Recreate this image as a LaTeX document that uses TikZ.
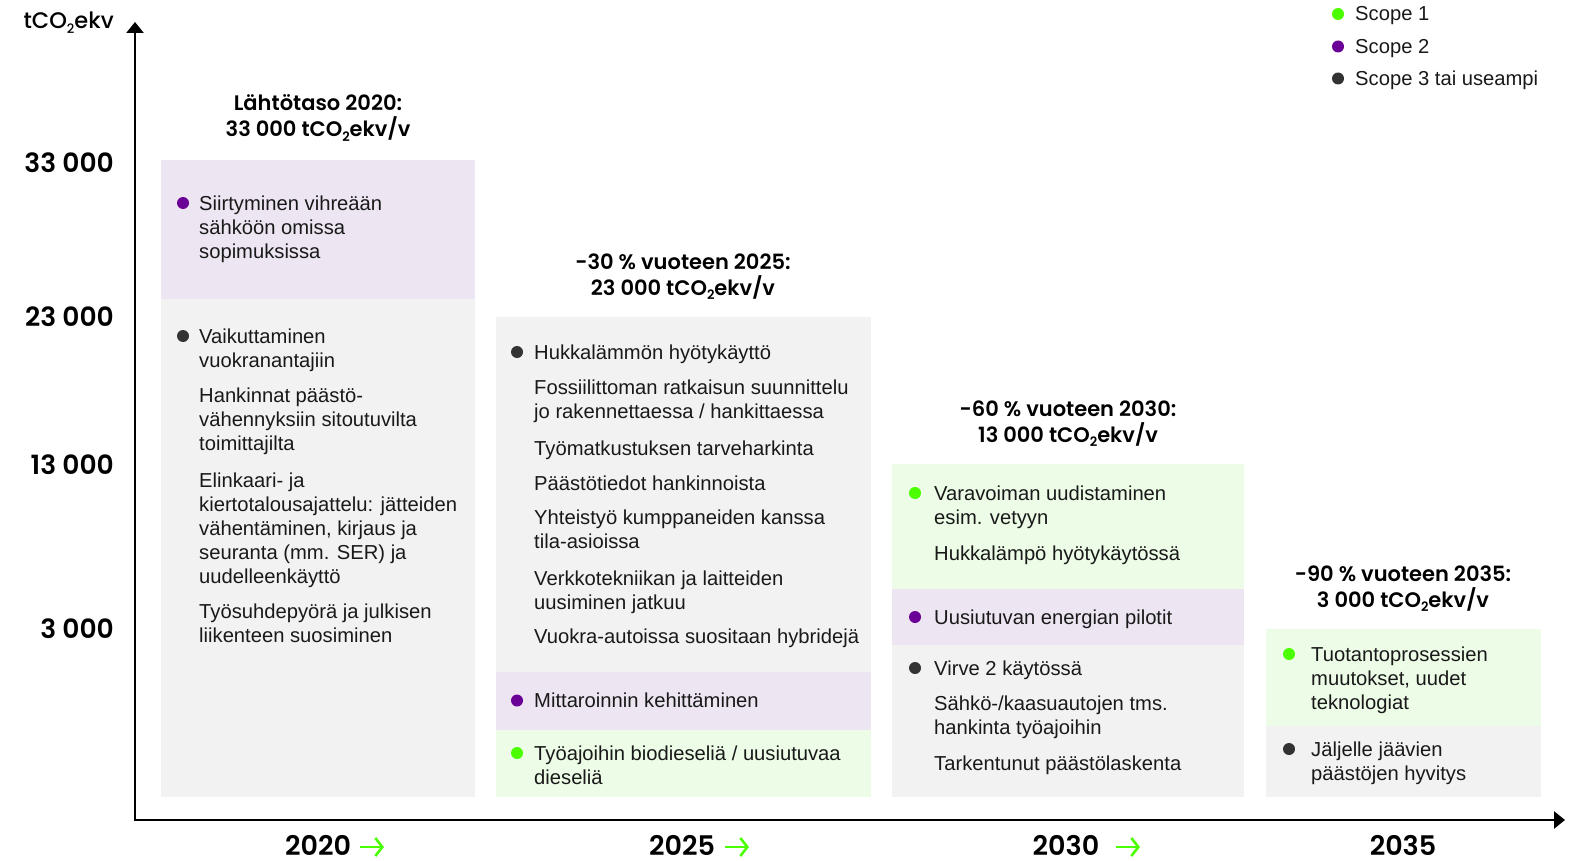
\documentclass[tikz,border=0pt]{standalone}
\usepackage{fontspec}
\setmainfont{Liberation Sans}
\newfontfamily\hdr{Poppins}[BoldFont={Poppins SemiBold}]
\newfontfamily\hdrm{Poppins Medium}
\usetikzlibrary{arrows.meta}
\definecolor{boxpurple}{HTML}{EDE5F2}
\definecolor{boxgray}{HTML}{F2F2F2}
\definecolor{boxgreen}{HTML}{ECFCE6}
\definecolor{dotpurple}{HTML}{6B0096}
\definecolor{dotgreen}{HTML}{4CFF00}
\definecolor{dotdark}{HTML}{333333}
\newcommand\cotwo{tCO\raisebox{-0.35ex}{\fontsize{13}{13}\selectfont 2}}
\begin{document}
\begin{tikzpicture}[x=1pt,y=-1pt,
  body/.style={anchor=base west, align=left, inner sep=0pt, font=\fontsize{20.2}{24.15}\selectfont, text=black!90},
  nl/.style={yshift=-(#1-1)*24.15pt},
  hd/.style={anchor=base, align=center, inner sep=0pt, yshift=-26pt, font=\hdr\bfseries\fontsize{21}{26}\selectfont},
  ylab/.style={anchor=base east, inner sep=0pt, font=\hdr\bfseries\fontsize{26.5}{28}\selectfont},
  year/.style={anchor=base, inner sep=0pt, text depth=0pt, font=\hdr\bfseries\fontsize{27}{28}\selectfont},
  dot/.style={circle, inner sep=0pt, minimum size=12pt, fill=#1},
  axis/.style={line width=2.6pt, -{Triangle[width=17pt,length=11pt]}},
  garrow/.style={draw=dotgreen, line width=2.6pt, -{Straight Barb[length=7pt,width=18pt]}}
]
\useasboundingbox (0,0) rectangle (1578,861);
% boxes
\fill[boxpurple] (161,160) rectangle (475,299);
\fill[boxgray] (161,299) rectangle (475,797);
\fill[boxgray] (496,317) rectangle (871,672);
\fill[boxpurple] (496,672) rectangle (871,730);
\fill[boxgreen] (496,730) rectangle (871,797);
\fill[boxgreen] (892,464) rectangle (1244,589);
\fill[boxpurple] (892,589) rectangle (1244,645);
\fill[boxgray] (892,645) rectangle (1244,797);
\fill[boxgreen] (1266,629) rectangle (1541,726);
\fill[boxgray] (1266,726) rectangle (1541,797);
% axes
\coordinate (O) at (135,820);
\coordinate (Ytop) at (135,22);
\coordinate (Xend) at (1565,820);
\draw[axis] (O) -- (Ytop);
\draw[axis] (133.7,820) -- (Xend);
% y labels
\node[ylab, font=\hdrm\fontsize{22.5}{24}\selectfont] (yunit) at (114,29) {\cotwo ekv};
\node[ylab] (y33) at (114,172) {33 000};
\node[ylab] (y23) at (114,326) {23 000};
\node[ylab] (y13) at (114,474) {13 000};
\node[ylab] (y3) at (114,638) {3 000};
% years
\node[year] (yr20) at (318,855) {2020};
\coordinate (a20s) at (360,847); \coordinate (a20e) at (384,847);
\draw[garrow] (a20s) -- (a20e);
\node[year] (yr25) at (682,855) {2025};
\coordinate (a25s) at (725,847); \coordinate (a25e) at (749,847);
\draw[garrow] (a25s) -- (a25e);
\node[year] (yr30) at (1066,855) {2030};
\coordinate (a30s) at (1116,847); \coordinate (a30e) at (1140,847);
\draw[garrow] (a30s) -- (a30e);
\node[year] (yr35) at (1403,855) {2035};
% legend
\node[dot=dotgreen] (l1) at (1338,14) {};
\node[body] (lt1) at (1355,21) {Scope 1};
\node[dot=dotpurple] (l2) at (1338,46.5) {};
\node[body] (lt2) at (1355,53.5) {Scope 2};
\node[dot=dotdark] (l3) at (1338,78.5) {};
\node[body] (lt3) at (1355,85.5) {Scope 3 tai useampi};
% headers
\node[hd] (h1) at (318,111) {Lähtötaso 2020:\\33 000 \cotwo ekv/v};
\node[hd] (h2) at (683,269) {-30 \% vuoteen 2025:\\23 000 \cotwo ekv/v};
\node[hd] (h3) at (1068,416) {-60 \% vuoteen 2030:\\13 000 \cotwo ekv/v};
\node[hd] (h4) at (1403,581) {-90 \% vuoteen 2035:\\3 000 \cotwo ekv/v};
% column 1
\node[dot=dotpurple] (b11) at (183,203) {};
\node[body, nl=3] (t11) at (199,210) {Siirtyminen vihreään\\sähköön omissa\\sopimuksissa};
\node[dot=dotdark] (b12) at (183,336) {};
\node[body, nl=2] (t12) at (199,343) {Vaikuttaminen\\vuokranantajiin};
\node[body, nl=3] (t13) at (199,402.5) {Hankinnat päästö-\\vähennyksiin sitoutuvilta\\toimittajilta};
\node[body, nl=5] (t14) at (199,487) {Elinkaari- ja\\kiertotalousajattelu: jätteiden\\vähentäminen, kirjaus ja\\seuranta (mm. SER) ja\\uudelleenkäyttö};
\node[body, nl=2] (t15) at (199,618) {Työsuhdepyörä ja julkisen\\liikenteen suosiminen};
% column 2
\node[dot=dotdark] (b21) at (517,352) {};
\node[body] (t21) at (534,359) {Hukkalämmön hyötykäyttö};
\node[body, nl=2] (t22) at (534,394.5) {Fossiilittoman ratkaisun suunnittelu\\jo rakennettaessa / hankittaessa};
\node[body] (t23) at (534,455) {Työmatkustuksen tarveharkinta};
\node[body] (t24) at (534,490) {Päästötiedot hankinnoista};
\node[body, nl=2] (t25) at (534,524) {Yhteistyö kumppaneiden kanssa\\tila-asioissa};
\node[body, nl=2] (t26) at (534,585) {Verkkotekniikan ja laitteiden\\uusiminen jatkuu};
\node[body] (t27) at (534,643) {Vuokra-autoissa suositaan hybridejä};
\node[dot=dotpurple] (b22) at (517,700.5) {};
\node[body] (t28) at (534,707.5) {Mittaroinnin kehittäminen};
\node[dot=dotgreen] (b23) at (517,753) {};
\node[body, nl=2] (t29) at (534,760) {Työajoihin biodieseliä / uusiutuvaa\\dieseliä};
% column 3
\node[dot=dotgreen] (b31) at (915,493) {};
\node[body, nl=2] (t31) at (934,500) {Varavoiman uudistaminen\\esim. vetyyn};
\node[body] (t32) at (934,560.5) {Hukkalämpö hyötykäytössä};
\node[dot=dotpurple] (b32) at (915,617) {};
\node[body] (t33) at (934,624) {Uusiutuvan energian pilotit};
\node[dot=dotdark] (b33) at (915,668) {};
\node[body] (t34) at (934,675) {Virve 2 käytössä};
\node[body, nl=2] (t35) at (934,710.5) {Sähkö-/kaasuautojen tms.\\hankinta työajoihin};
\node[body] (t36) at (934,770) {Tarkentunut päästölaskenta};
% column 4
\node[dot=dotgreen] (b41) at (1289,654) {};
\node[body, nl=3] (t41) at (1311,661) {Tuotantoprosessien\\muutokset, uudet\\teknologiat};
\node[dot=dotdark] (b42) at (1289,749) {};
\node[body, nl=2] (t42) at (1311,756) {Jäljelle jäävien\\päästöjen hyvitys};
\end{tikzpicture}
\end{document}
